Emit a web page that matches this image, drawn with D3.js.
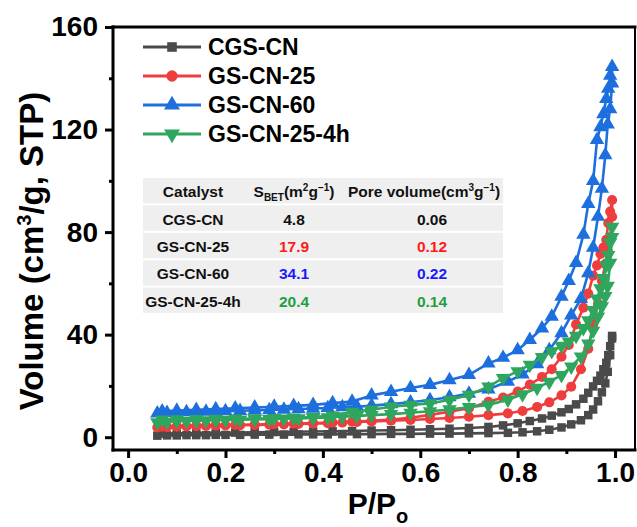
<!DOCTYPE html>
<html>
<head>
<meta charset="utf-8">
<script src="https://cdn.jsdelivr.net/npm/d3@7"></script>
<style>
  body { margin: 0; background: #fff; }
  svg { display: block; }
  text { font-family: "Liberation Sans", Arial, Helvetica, sans-serif; font-weight: bold; }
</style>
</head>
<body>
<svg id="chart" width="637" height="527"></svg>
<script>
// N2 adsorption–desorption isotherms (77 K)
const seriesNames = ["CGS-CN", "GS-CN-25", "GS-CN-60", "GS-CN-25-4h"];
const seriesColors = ["#4a4a4a", "#ef3d3d", "#1d6fde", "#2fa65e"];

// relative pressure points, adsorption (rising) and desorption (falling) branches
const pAds = [0.06, 0.08, 0.10, 0.12, 0.14, 0.16, 0.18, 0.20, 0.23, 0.26, 0.29, 0.32, 0.35, 0.38,
  0.41, 0.44, 0.47, 0.50, 0.54, 0.58, 0.62, 0.66, 0.70, 0.74, 0.78, 0.81, 0.84, 0.865, 0.89,
  0.91, 0.93, 0.945, 0.955, 0.965, 0.973, 0.98, 0.985, 0.99, 0.994];
const pDes = [0.994, 0.99, 0.986, 0.982, 0.976, 0.97, 0.963, 0.955, 0.945, 0.935, 0.92, 0.905,
  0.89, 0.87, 0.85, 0.825, 0.80, 0.77, 0.74, 0.70, 0.66, 0.62, 0.58, 0.54, 0.50, 0.46, 0.42,
  0.38, 0.34, 0.30, 0.26, 0.22, 0.18, 0.14, 0.10, 0.07];

// adsorbed volume, cm3/g STP
const cgsAds = [0.6, 0.7, 0.7, 0.8, 0.8, 0.8, 0.9, 0.9, 0.9, 1.0, 1.0, 1.0, 1.1, 1.1,
  1.1, 1.2, 1.2, 1.2, 1.3, 1.3, 1.4, 1.4, 1.5, 1.6, 1.7, 1.9, 2.3, 2.9, 3.8,
  5.0, 6.6, 8.6, 10.8, 14.0, 17.5, 21.0, 25.5, 32.0, 38.5];
const cgsDes = [39.5, 35.5, 32.0, 29.0, 26.5, 24.0, 22.0, 19.8, 17.3, 15.0, 12.8, 11.0,
  9.7, 8.4, 7.3, 6.3, 5.4, 4.6, 4.0, 3.6, 3.3, 3.1, 2.9, 2.7, 2.6, 2.4, 2.3,
  2.2, 2.1, 2.0, 1.9, 1.8, 1.7, 1.6, 1.5, 1.4];

const cn25Ads = [3.8, 4.0, 4.1, 4.2, 4.3, 4.4, 4.5, 4.6, 4.7, 4.8, 4.9, 5.0, 5.2, 5.3,
  5.5, 5.7, 5.9, 6.1, 6.4, 6.7, 7.1, 7.5, 8.0, 8.6, 9.3, 10.2, 11.8, 13.6, 16.3,
  19.7, 26.5, 34.5, 44.0, 52.0, 61.0, 67.5, 72.5, 78.0, 86.0];
const cn25Des = [92.5, 88.0, 83.5, 77.0, 74.0, 71.5, 67.0, 63.0, 56.0, 50.5, 44.0, 36.0,
  31.4, 26.5, 23.5, 20.5, 17.8, 15.5, 13.8, 11.3, 9.9, 8.7, 7.6, 6.9, 6.4, 6.0, 5.7,
  5.5, 5.3, 5.1, 4.9, 4.8, 4.7, 4.5, 4.3, 4.1];

const cn60Ads = [9.3, 9.5, 9.7, 9.8, 9.9, 10.0, 10.1, 10.2, 10.3, 10.5, 10.6, 10.8, 11.0, 11.2,
  11.4, 11.7, 11.9, 12.3, 12.9, 13.6, 14.5, 15.6, 17.0, 18.7, 21.7, 24.5, 28.5, 34.0, 40.6,
  47.5, 54.0, 64.0, 74.0, 86.0, 97.0, 110.0, 122.0, 128.0, 138.0];
const cn60Des = [144.5, 141.0, 136.0, 132.0, 126.0, 121.0, 116.0, 100.0, 91.0, 79.0, 68.0, 61.0,
  54.8, 47.0, 42.5, 38.0, 34.0, 31.0, 28.8, 24.3, 22.3, 20.4, 19.2, 17.7, 16.3, 13.9, 13.3,
  12.6, 12.2, 11.9, 11.6, 11.3, 11.0, 10.7, 10.4, 10.1];

const cn25hAds = [5.8, 6.0, 6.2, 6.3, 6.4, 6.5, 6.6, 6.7, 6.8, 6.9, 7.0, 7.2, 7.3, 7.5,
  7.7, 8.0, 8.3, 8.6, 9.0, 9.5, 10.1, 10.8, 11.7, 12.6, 14.6, 16.7, 19.2, 21.6, 24.2,
  27.5, 31.4, 36.5, 41.5, 47.0, 51.0, 55.0, 59.0, 68.0, 78.0];
const cn25hDes = [82.0, 76.0, 71.0, 67.0, 62.0, 58.0, 54.0, 49.5, 45.5, 42.5, 39.5, 37.3,
  35.6, 33.5, 31.2, 28.2, 25.7, 23.0, 19.7, 16.5, 14.5, 13.2, 12.6, 11.9, 10.7, 9.9, 8.4,
  7.9, 7.6, 7.4, 7.3, 7.2, 7.1, 7.0, 6.9, 6.8];

const adsValues = [cgsAds, cn25Ads, cn60Ads, cn25hAds];
const desValues = [cgsDes, cn25Des, cn60Des, cn25hDes];

// axis ticks
const xMajorTicks = [0, 0.2, 0.4, 0.6, 0.8, 1.0];
const xMinorTicks = [0.1, 0.3, 0.5, 0.7, 0.9];
const yMajorTicks = [0, 40, 80, 120, 160];
const yMinorTicks = [20, 60, 100, 140];

// inset table
const tableCatalysts = ["CGS-CN", "GS-CN-25", "GS-CN-60", "GS-CN-25-4h"];
const tableSBET = ["4.8", "17.9", "34.1", "20.4"];
const tablePoreVolume = ["0.06", "0.12", "0.22", "0.14"];
const tableValueColors = ["#111111", "#ff1a1a", "#1a1aff", "#1fa040"];

const svg = d3.select("#chart");
const plotLeft = 113, plotRight = 635, plotTop = 27, plotBottom = 450;

const x = d3.scaleLinear().domain([-0.031, 1.041]).range([plotLeft, plotRight]);
const y = d3.scaleLinear().domain([-5, 160]).range([plotBottom, plotTop]);

// series
const symbolTypes = [d3.symbolSquare, d3.symbolCircle, d3.symbolTriangle, d3.symbolTriangle];
const symbolSizes = [72, 80, 90, 90];
const symbolRotate = [0, 0, 0, 180];

const line = d3.line().x(d => x(d[0])).y(d => y(d[1]));

seriesNames.forEach((name, i) => {
  const pts = pAds.map((p, k) => [p, adsValues[i][k]])
    .concat(pDes.map((p, k) => [p, desValues[i][k]]));
  const g = svg.append("g").attr("class", "series");
  g.append("path")
    .attr("d", line(pts))
    .attr("fill", "none")
    .attr("stroke", seriesColors[i])
    .attr("stroke-width", 2.6)
    .attr("stroke-linejoin", "round");
  const sym = d3.symbol().type(symbolTypes[i]).size(symbolSizes[i]);
  g.selectAll("path.mk").data(pts).enter().append("path")
    .attr("class", "mk")
    .attr("d", sym)
    .attr("transform", d => `translate(${x(d[0])},${y(d[1])}) rotate(${symbolRotate[i]})`)
    .attr("fill", seriesColors[i]);
});

// axes
const fs = 28;
const xAxisMajor = d3.axisBottom(x).tickValues(xMajorTicks).tickSize(8).tickPadding(4)
  .tickFormat(d3.format(".1f"));
const xAxisMinor = d3.axisBottom(x).tickValues(xMinorTicks).tickSize(4).tickFormat("");
const yAxisMajor = d3.axisLeft(y).tickValues(yMajorTicks).tickSize(8).tickPadding(7)
  .tickFormat(d3.format("d"));
const yAxisMinor = d3.axisLeft(y).tickValues(yMinorTicks).tickSize(4).tickFormat("");

function styleAxis(g) {
  g.select(".domain").remove();
  g.selectAll(".tick line").attr("stroke", "#000").attr("stroke-width", 3);
  g.selectAll(".tick text").attr("fill", "#000").style("font-size", fs + "px")
    .style("font-family", '"Liberation Sans", Arial, sans-serif').style("font-weight", "bold");
}
svg.append("g").attr("transform", `translate(0,${plotBottom})`).call(xAxisMajor).call(styleAxis);
svg.append("g").attr("transform", `translate(0,${plotBottom})`).call(xAxisMinor).call(styleAxis);
svg.append("g").attr("transform", `translate(${plotLeft},0)`).call(yAxisMajor).call(styleAxis);
svg.append("g").attr("transform", `translate(${plotLeft},0)`).call(yAxisMinor).call(styleAxis);

// frame
const frame = svg.append("g").attr("stroke", "#000").attr("fill", "none").attr("stroke-linecap", "square");
frame.append("line").attr("x1", plotLeft).attr("y1", plotTop).attr("x2", plotLeft).attr("y2", plotBottom).attr("stroke-width", 3);
frame.append("line").attr("x1", plotLeft).attr("y1", plotBottom).attr("x2", plotRight).attr("y2", plotBottom).attr("stroke-width", 3);
frame.append("line").attr("x1", plotLeft).attr("y1", plotTop).attr("x2", plotRight).attr("y2", plotTop).attr("stroke-width", 3);
frame.append("line").attr("x1", plotRight).attr("y1", plotTop).attr("x2", plotRight).attr("y2", plotBottom).attr("stroke-width", 2);

// axis titles
const yTitle = svg.append("text")
  .attr("transform", `translate(43,251) rotate(-90)`)
  .attr("text-anchor", "middle")
  .style("font-size", "33px");
yTitle.append("tspan").text("Volume (cm");
yTitle.append("tspan").attr("dy", -12).style("font-size", "20px").text("3");
yTitle.append("tspan").attr("dy", 12).text("/g, STP)");

const xTitle = svg.append("text")
  .attr("x", 378).attr("y", 514)
  .attr("text-anchor", "middle")
  .style("font-size", "30px");
xTitle.append("tspan").text("P/P");
xTitle.append("tspan").attr("dy", 9).style("font-size", "20px").text("o");

// legend
const legend = svg.append("g");
seriesNames.forEach((name, i) => {
  const ly = 47 + i * 29;
  legend.append("line").attr("x1", 143).attr("x2", 201).attr("y1", ly).attr("y2", ly)
    .attr("stroke", seriesColors[i]).attr("stroke-width", 3);
  legend.append("path")
    .attr("d", d3.symbol().type(symbolTypes[i]).size(symbolSizes[i] + 20))
    .attr("transform", `translate(172,${ly}) rotate(${symbolRotate[i]})`)
    .attr("fill", seriesColors[i]);
  legend.append("text").attr("x", 208).attr("y", ly + 8)
    .style("font-size", "23px").attr("fill", "#000").text(name);
});

// inset table of textural properties
const tx0 = 143, tx1 = 503, ty0 = 178, rowH = 27.4;
const colCenters = [193, 294, 424];
const tfs = "15.5px";
const table = svg.append("g");
for (let r = 0; r < 5; r++) {
  table.append("rect").attr("x", tx0).attr("y", ty0 + r * rowH)
    .attr("width", tx1 - tx0).attr("height", rowH - 2)
    .attr("fill", "#efefef");
}
const hy = ty0 + rowH / 2 + 5.5;
table.append("text").attr("x", colCenters[0]).attr("y", hy).attr("text-anchor", "middle")
  .style("font-size", tfs).attr("fill", "#111").text("Catalyst");
const h2 = table.append("text").attr("x", colCenters[1]).attr("y", hy).attr("text-anchor", "middle")
  .style("font-size", tfs).attr("fill", "#111");
h2.append("tspan").text("S");
h2.append("tspan").attr("dy", 4).style("font-size", "10px").text("BET");
h2.append("tspan").attr("dy", -4).text("(m");
h2.append("tspan").attr("dy", -6).style("font-size", "10px").text("2");
h2.append("tspan").attr("dy", 6).text("g");
h2.append("tspan").attr("dy", -6).style("font-size", "10px").text("\u22121");
h2.append("tspan").attr("dy", 6).text(")");
const h3 = table.append("text").attr("x", colCenters[2]).attr("y", hy).attr("text-anchor", "middle")
  .style("font-size", tfs).attr("fill", "#111");
h3.append("tspan").text("Pore volume(cm");
h3.append("tspan").attr("dy", -6).style("font-size", "10px").text("3");
h3.append("tspan").attr("dy", 6).text("g");
h3.append("tspan").attr("dy", -6).style("font-size", "10px").text("\u22121");
h3.append("tspan").attr("dy", 6).text(")");

tableCatalysts.forEach((cat, i) => {
  const ry = ty0 + (i + 1) * rowH + rowH / 2 + 5.5;
  table.append("text").attr("x", colCenters[0]).attr("y", ry).attr("text-anchor", "middle")
    .style("font-size", tfs).attr("fill", "#111").text(cat);
  table.append("text").attr("x", colCenters[1]).attr("y", ry).attr("text-anchor", "middle")
    .style("font-size", tfs).attr("fill", tableValueColors[i]).text(tableSBET[i]);
  table.append("text").attr("x", colCenters[2] + 8).attr("y", ry).attr("text-anchor", "middle")
    .style("font-size", tfs).attr("fill", tableValueColors[i]).text(tablePoreVolume[i]);
});
</script>
</body>
</html>
